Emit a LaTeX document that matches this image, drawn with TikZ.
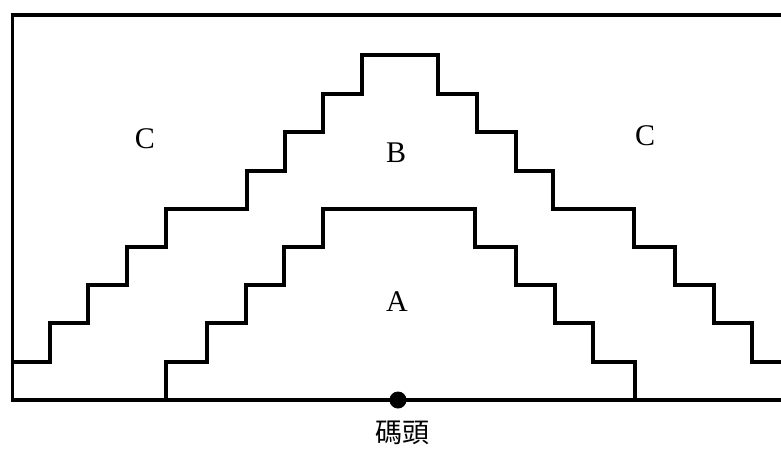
\documentclass[tikz,border=0pt]{standalone}
\usepackage{fontspec}
\setmainfont{Liberation Serif}
\newfontfamily\cjk{Noto Sans CJK TC}
\begin{document}
\begin{tikzpicture}[x=1pt,y=-1pt,
  wall/.style={line width=3.3pt,line join=miter,line cap=rect},
  zone/.style={font=\fontsize{30}{32}\selectfont,inner sep=0pt},
  dockdot/.style={circle,fill=black,inner sep=0pt,minimum size=17pt}]
\useasboundingbox (0,0) rectangle (781,448);
% outer boundary
\draw[wall] (781,15) -- (12.5,15) -- (12.5,400) -- (781,400);
% B boundary
\draw[wall] (12.5,362) -| (50,323) -| (88,285) -| (127,247) -| (166,209)
  -| (247,171) -| (285,132) -| (323,94) -| (362,55) -- (438,55)
  |- (477,94) |- (516,132) |- (553,171) |- (634,209) |- (675,247)
  |- (714,285) |- (752,323) |- (781,362);
% A boundary
\draw[wall] (166,400) |- (207,362) |- (246,323) |- (284,285) |- (323,247)
  |- (475,209) |- (516,247) |- (555,285) |- (593,323) |- (635,362) -- (635,400);
% labels
\node[zone] (cl) at (145,139) {C};
\node[zone] (cr) at (645,136) {C};
\node[zone] (b) at (396,153) {B};
\node[zone] (a) at (397,302) {A};
\node[dockdot] (dock) at (398,400) {};
\node[font=\cjk\fontsize{27}{29}\selectfont,inner sep=0pt] (docklabel) at (402,433) {碼頭};
\end{tikzpicture}
\end{document}
